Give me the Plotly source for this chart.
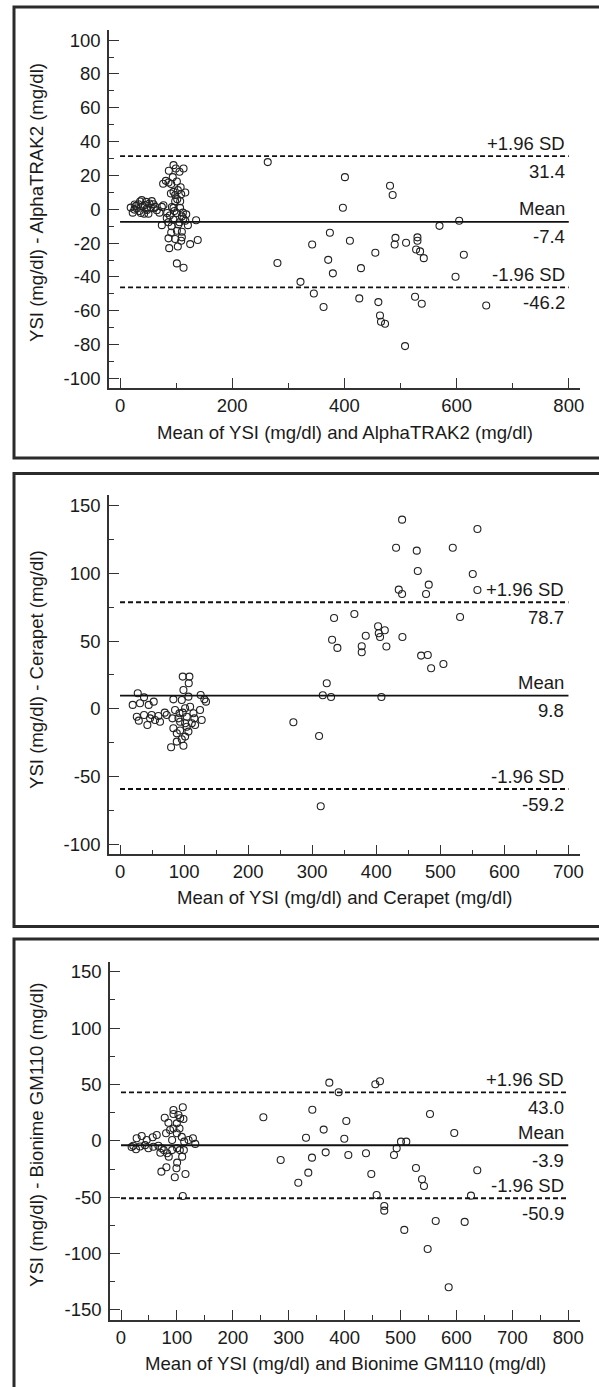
import plotly.graph_objects as go

W, H = 599, 1387

# ---------------- Data ----------------
# Panel 1: YSI vs AlphaTRAK2
p1_x = [19, 22.6, 25.6, 28.6, 32.8, 34.6, 35.7, 38.7, 40.5, 42.9, 46.5, 47.7, 50.6, 52.4, 56.6, 59.6,
        62.6, 65.5, 70.3, 74.5, 77.4, 30, 44, 55, 26, 37, 48, 60,
        74.5, 76.8, 81.6, 87, 95.3, 99.5, 106, 113.2, 86.4, 91.2, 101.3, 103, 95.3, 90.6, 98.3, 109,
        116.3, 107.2, 98.3, 92.4, 95.3, 107, 84, 88.7, 101.3, 110.2, 113, 95.3, 86.4, 106, 116.3, 121,
        135.6, 91.2, 101.3, 110.2, 86.4, 98.3, 110.2, 138.5, 87.6, 103, 109, 125, 101.3, 113.2, 83.3,
        92, 104, 97, 102, 108, 94, 112, 118,
        263.3, 280.6, 321.7, 342.5, 345.5, 362.8, 371.1, 374.1, 379.4, 397.3, 400.9, 409.8, 426.5,
        429.5, 455.1, 460.5, 463.4, 465.2, 472.4, 481.3, 486, 489.6, 491, 508.1, 509.9, 525.9, 527.8,
        530.2, 530.2, 534.9, 537.9, 541.5, 569.5, 598.1, 604.6, 612.9, 652.8]
p1_y = [1.0, -2.0, -0.2, 2.0, 3.0, -1.0, 4.6, 5.4, 1.8, -2.6, 4.4, 0.4, -2.6, 3.4, 4.8, 3.0,
        1.4, -0.6, -2.0, 1.4, 2.4, 0.5, 2.5, 1.0, 2.8, -2.2, -0.4, 0.6,
        -9.4, 15.1, 16.8, 22.8, 26.1, 24.1, 22.2, 24.1, 15.8, 14.9, 16.4, 11.3, 10.3, 9.3, 8.4, 8.9,
        9.9, 4.7, 4.7, 1.3, 0.8, 0.8, -2.2, -3.7, -2.2, -4.2, -5.5, -6.2, -7.7, -7.7, -6.8, -9.4,
        -6.5, -13.7, -12.7, -13.3, -17.2, -17.6, -16.6, -18.2, -23, -22, -18.6, -20.6, -32, -34.6, -5.1,
        -10, -9, -1, 6, 13, 19, -2, -3,
        27.9, -31.8, -42.9, -20.8, -49.8, -57.8, -29.9, -13.9, -37.9, 0.9, 19.0, -18.6, -52.7,
        -34.8, -25.7, -54.9, -62.8, -66.5, -67.7, 13.9, 8.4, -20.8, -16.9, -80.9, -19.8, -51.7, -23.8,
        -16.6, -18.6, -24.9, -55.9, -28.9, -9.8, -39.9, -6.8, -26.9, -56.9]
p1_stats = [31.4, -7.4, -46.2]   # +1.96 SD, mean, -1.96 SD
p1_xticks = [0, 200, 400, 600, 800]
p1_yticks = [-100, -80, -60, -40, -20, 0, 20, 40, 60, 80, 100]

# Panel 2: YSI vs Cerapet
p2_x = [19.8, 27.7, 31.2, 37.5, 26.2, 29.3, 44.8, 52.6, 37.5, 42.7, 46.9, 54.7, 59.9, 72.9, 69.8,
        62.4, 49.4, 83.3, 85.9, 81.8, 79.7, 83.3, 88.6, 88.6, 93.8, 93.8, 97.9, 108.3, 107.3, 99,
        96.4, 101.6, 97.9, 104.2, 106.8, 109.4, 112, 114.6, 116.1, 117.2, 101.6, 104.2, 106.8, 101.6,
        99, 96.4, 125.9, 131.6, 134.2, 91.2, 92.8, 127.5, 124.9,
        270.6, 310.7, 313.3, 316.5, 322.7, 329.4, 331, 334.1, 339.3, 365.8, 377.3, 377.3, 383.6,
        402.8, 403.9, 405.9, 408, 413.3, 415.8, 430.9, 435.1, 440.3, 440.3, 440.8, 463.2, 464.8,
        470, 477.7, 480.4, 481.9, 485.6, 504.8, 519.4, 530.8, 550.6, 557.9, 557.9]
p2_y = [2.9, 11.5, 4.1, 8.5, -5.8, -8.7, 2.9, 5.3, -4.5, -11.9, -7, -8.2, -5.3, -4.5, -2.8,
        -9.5, -4.5, 7, -0.8, -7, -28.4, -14.3, -18, -24.2, -9.5, -16, 23.8, 23.8, 18.9, 13.9,
        6.5, 0.4, -2.8, -5.8, 9, 1.6, -10.6, -3.3, -7, -11.9, -10.6, -13.2, -16.8, -20.5,
        -27.2, -22.5, 10.2, 7, 5.3, -7, -3.3, -8.2, -0.8,
        -9.9, -20, -71.9, 10, 18.9, 8.8, 51, 67.1, 45, 70, 46.2, 41.8, 54,
        61, 55.8, 53, 8.8, 58, 46, 119, 88, 139.7, 84.8, 53, 116.8, 101.8,
        39.3, 84.8, 39.8, 91.7, 30, 33.1, 119, 67.8, 99.6, 132.8, 87.8]
p2_stats = [78.7, 9.8, -59.2]
p2_xticks = [0, 100, 200, 300, 400, 500, 600, 700]
p2_yticks = [-100, -50, 0, 50, 100, 150]

# Panel 3: YSI vs Bionime GM110
p3_x = [28, 26.8, 37, 46, 49, 57.9, 56.7, 63.9, 22, 19, 34, 43, 66.9, 72.8, 78.2, 80.6, 84.8,
        93.8, 93.8, 99.8, 102.8, 105.8, 110.5, 111.7, 87.8, 93.8, 99.8, 104.6, 108.7, 113, 120.8,
        128.6, 132.8, 70.4, 76.4, 82.4, 85.4, 91.4, 100.4, 105.2, 109.4, 100.4, 99.2, 81.2, 72.2,
        96.2, 115.3, 110.5, 112.4, 91.4,
        254.6, 285.6, 317.1, 330.9, 335, 341.6, 342.2, 362.5, 366.1, 372.6, 389.3, 399.4, 403,
        406.6, 438.2, 447.7, 454.9, 457.3, 463.2, 470.9, 470.9, 488.3, 493.1, 500.8, 506.7, 510.3,
        527.6, 538.4, 541.9, 548.5, 552.7, 562.9, 586.1, 596.1, 614.7, 626, 637.3]
p3_y = [2.3, -7.5, 4.3, 0.8, -6.6, -5.2, 3.2, 5.2, -4.3, -5.5, -5, -3.8, -4.3, -6.6, 20.5, 6.7, 16.1,
        23.8, 27.4, 15.5, 22.9, 20, 29.8, 19.4, 9.6, 11, 6.7, 11, 3.5, -0.7, 0.8,
        2.3, -2.7, -10.5, -8.2, -11, -14, -8.2, -6.6, -8.2, -14, -19.3, -24.3, -23.4, -27.3,
        -32.3, -29.4, -48.9, -8.2, 0.8,
        20.9, -17, -37.1, 2.8, -28.2, -14.9, 27.6, 10, -10.2, 51.6, 43.1, 1.9, 17.6,
        -12.5, -11, -29.4, 50.2, -48, 52.8, -57.8, -61.9, -12.5, -6.6, -0.7, -79, -0.7,
        -24.1, -34.1, -40, -95.9, 23.8, -71.1, -129.9, 7, -71.9, -48.6, -26.1]
p3_stats = [43.0, -3.9, -50.9]
p3_xticks = [0, 100, 200, 300, 400, 500, 600, 700, 800]
p3_yticks = [-150, -100, -50, 0, 50, 100, 150]

titles_x = ["Mean of YSI (mg/dl) and AlphaTRAK2 (mg/dl)",
            "Mean of YSI (mg/dl) and Cerapet (mg/dl)",
            "Mean of YSI (mg/dl) and Bionime GM110 (mg/dl)"]
titles_y = ["YSI (mg/dl) - AlphaTRAK2 (mg/dl)",
            "YSI (mg/dl) - Cerapet (mg/dl)",
            "YSI (mg/dl) - Bionime GM110 (mg/dl)"]
line_labels = ["+1.96 SD", "Mean", "-1.96 SD"]
line_end = [800, 700, 800]

# ---------------- Layout geometry (pixels) ----------------
FONT = "Liberation Sans, Arial, Helvetica, sans-serif"
FS = 18.5
FT = 18.6
AX = "#333333"
TXT = "#1a1a1a"

def fx(px):
    return px / W

def fy(py):
    return 1 - py / H

panels = [
    dict(x=p1_x, y=p1_y, st=p1_stats, xt=p1_xticks, yt=p1_yticks,
         xd=(109, 580), yd=(30, 387.7), xr=[-19.7, 820], yr=[-105.5, 106],
         xmdt=100, ymdt=10, box=(7, 458), ytc=203, xtc=432),
    dict(x=p2_x, y=p2_y, st=p2_stats, xt=p2_xticks, yt=p2_yticks,
         xd=(109, 580), yd=(495, 854.3), xr=[-17.2, 718], yr=[-107.4, 157.9],
         xmdt=50, ymdt=25, box=(473.5, 926.5), ytc=670, xtc=897),
    dict(x=p3_x, y=p3_y, st=p3_stats, xt=p3_xticks, yt=p3_yticks,
         xd=(110, 580), yd=(961.7, 1320), xr=[-19.7, 821], yr=[-158.9, 158.9],
         xmdt=50, ymdt=25, box=(939, 1420), ytc=1135, xtc=1363),
]

fig = go.Figure()
shapes = []
annotations = []
layout = dict()

for i, p in enumerate(panels):
    n = i + 1
    xa = "x" if n == 1 else f"x{n}"
    ya = "y" if n == 1 else f"y{n}"
    xkey = "xaxis" if n == 1 else f"xaxis{n}"
    ykey = "yaxis" if n == 1 else f"yaxis{n}"

    # scatter points
    fig.add_trace(go.Scatter(x=p["x"], y=p["y"], mode="markers", xaxis=xa, yaxis=ya,
                             marker=dict(symbol="circle-open", size=7, color="#222222",
                                         line=dict(width=1.1, color="#222222")),
                             showlegend=False, hoverinfo="skip"))
    # limit / mean lines
    for k, val in enumerate(p["st"]):
        fig.add_trace(go.Scatter(x=[0, line_end[i]], y=[val, val], mode="lines", xaxis=xa, yaxis=ya,
                                 line=dict(color="#111111", width=1.8,
                                           dash="solid" if k == 1 else "5px,3px"),
                                 showlegend=False, hoverinfo="skip"))
        annotations.append(dict(x=line_end[i], y=val, xref=xa, yref=ya, text=line_labels[k],
                                showarrow=False, xanchor="right", yanchor="middle",
                                xshift=-2, yshift=13, font=dict(family=FONT, size=FS, color=TXT)))
        annotations.append(dict(x=line_end[i], y=val, xref=xa, yref=ya, text=f"{val:.1f}",
                                showarrow=False, xanchor="right", yanchor="middle",
                                xshift=-2, yshift=-15, font=dict(family=FONT, size=FS, color=TXT)))

    common = dict(showgrid=False, zeroline=False, showline=True, linecolor=AX, linewidth=1.6,
                  ticks="inside", ticklen=10, tickwidth=1.3, tickcolor=AX, automargin=False,
                  tickmode="array", tickfont=dict(family=FONT, size=FS, color=TXT))
    layout[xkey] = dict(common, domain=[fx(p["xd"][0]), fx(p["xd"][1])], range=p["xr"],
                        anchor=ya, tickvals=p["xt"], ticktext=[str(v) for v in p["xt"]],
                        minor=dict(ticks="inside", ticklen=5, tickwidth=1.2, tickcolor=AX,
                                   tickmode="linear", tick0=0, dtick=p["xmdt"]))
    layout[ykey] = dict(common, domain=[fy(p["yd"][1]), fy(p["yd"][0])], range=p["yr"],
                        anchor=xa, tickvals=p["yt"], ticktext=[str(v) for v in p["yt"]],
                        ticklabelstandoff=3,
                        minor=dict(ticks="inside", ticklen=5, tickwidth=1.2, tickcolor=AX,
                                   tickmode="linear", tick0=0, dtick=p["ymdt"]))

    # axis titles
    annotations.append(dict(x=fx((p["xd"][0] + p["xd"][1]) / 2), y=fy(p["xtc"]), xref="paper", yref="paper",
                            text=titles_x[i], showarrow=False, xanchor="center", yanchor="middle",
                            font=dict(family=FONT, size=FT, color=TXT)))
    annotations.append(dict(x=fx(36), y=fy(p["ytc"]), xref="paper", yref="paper",
                            text=titles_y[i], showarrow=False, textangle=-90,
                            xanchor="center", yanchor="middle",
                            font=dict(family=FONT, size=FT, color=TXT)))

    # panel frame
    shapes.append(dict(type="rect", xref="paper", yref="paper",
                       x0=fx(14), x1=fx(620), y0=fy(p["box"][1]), y1=fy(p["box"][0]),
                       line=dict(color="#2b2b2b", width=3), fillcolor="rgba(0,0,0,0)", layer="above"))

fig.update_layout(width=W, height=H, margin=dict(l=0, r=0, t=0, b=0),
                  paper_bgcolor="white", plot_bgcolor="white",
                  shapes=shapes, annotations=annotations, **layout)

fig.write_html("out.html", config={"displayModeBar": False},
               post_script="document.body.style.margin='0px';document.body.style.overflow='hidden';")
